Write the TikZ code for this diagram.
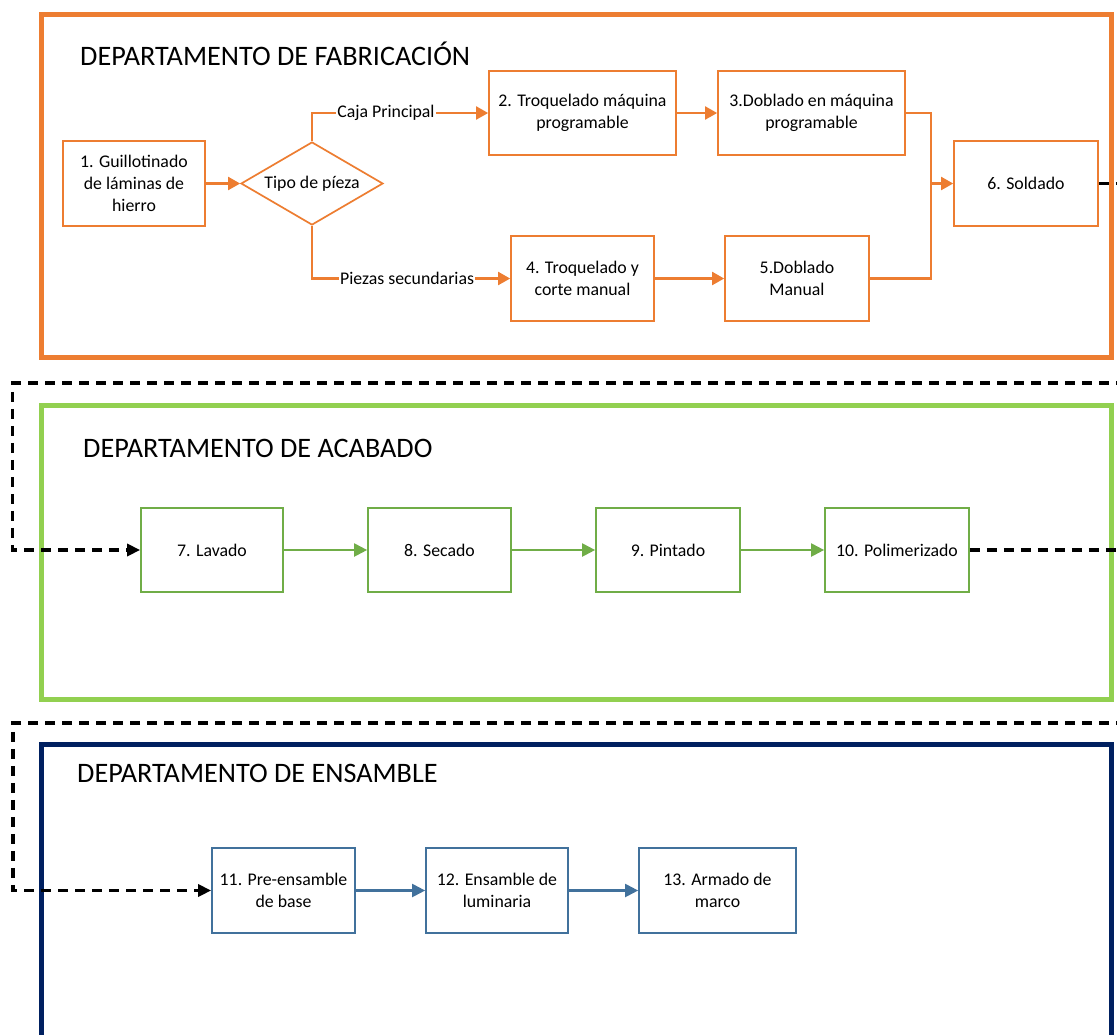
\documentclass[tikz,border=0pt]{standalone}
\usepackage{fontspec}
\setmainfont{Carlito}
\usetikzlibrary{arrows.meta,shapes.geometric}
\definecolor{orng}{HTML}{ED7D31}
\definecolor{grnframe}{HTML}{92D050}
\definecolor{grnline}{HTML}{70AD47}
\definecolor{navy}{HTML}{002060}
\definecolor{bluel}{HTML}{41719C}
\tikzset{
  txt/.style={font=\fontsize{17.8}{21.7}\selectfont, align=center, inner sep=0pt},
  ttl/.style={font=\fontsize{28.2}{34}\selectfont, anchor=base west, inner sep=0pt},
  obox/.style={txt, draw=orng, line width=1.7pt, fill=white},
  gbox/.style={txt, draw=grnline, line width=1.7pt, fill=white},
  bbox/.style={txt, draw=bluel, line width=1.7pt, fill=white},
  oarr/.style={draw=orng, line width=2.1pt, -{Triangle[length=12pt,width=13pt]}},
  garr/.style={draw=grnline, line width=2.1pt, -{Triangle[length=13pt,width=13pt]}},
  barr/.style={draw=bluel, line width=2.1pt, -{Triangle[length=13pt,width=13pt]}},
  oline/.style={draw=orng, line width=2.1pt},
  dline/.style={draw=black, line width=3.3pt, dash pattern=on 10pt off 7pt},
  darr/.style={dline, -{Triangle[length=13pt,width=12pt]}},
  frame/.style={line width=5pt},
  lbl/.style={txt, fill=white, inner sep=1pt}
}
\begin{document}
\begin{tikzpicture}[x=1pt,y=-1pt]
\useasboundingbox (0,0) rectangle (1117,1034);
\clip (0,0) rectangle (1117,1034);
\fill[white] (0,0) rectangle (1117,1034);

% frames
\draw[frame, draw=orng] (41,14) rectangle (1111,357);
\draw[frame, draw=grnframe] (41.5,405.5) rectangle (1111.5,699);
\draw[frame, draw=navy] (41,744) rectangle (1111,1060);

% titles
\node[ttl] (t1) at (80,65) {DEPARTAMENTO DE FABRICACIÓN};
\node[ttl] (t2) at (83,457) {DEPARTAMENTO DE ACABADO};
\node[ttl] (t3) at (77,782) {DEPARTAMENTO DE ENSAMBLE};

% fabrication
\node[obox, minimum width=142pt, minimum height=85pt] (b1) at (134,183.5) {1. Guillotinado\\de láminas de\\hierro};
\node[txt, diamond, draw=orng, line width=1.7pt, minimum width=142pt, minimum height=83pt, aspect=1.71] (dia) at (312,183.5) {Tipo de píeza};
\node[obox, minimum width=187pt, minimum height=84pt] (b2) at (582.5,113) {2. Troquelado máquina\\programable};
\node[obox, minimum width=187pt, minimum height=84pt] (b3) at (811.5,113) {3.Doblado en máquina\\programable};
\node[obox, minimum width=143pt, minimum height=85pt] (b4) at (582.5,278.5) {4. Troquelado y\\corte manual};
\node[obox, minimum width=144pt, minimum height=85pt] (b5) at (797,278.5) {5.Doblado\\Manual};
\node[obox, minimum width=144pt, minimum height=85pt] (b6) at (1026,183.5) {6. Soldado};
\coordinate (j) at (931,183.5);

\draw[oarr] (b1.east) -- (dia.west);
\draw[oarr] (dia.north) |- node[lbl, pos=0.71] (l1) {Caja Principal} (b2.west);
\draw[oarr] (dia.south) |- node[lbl, pos=0.74] (l2) {Piezas secundarias} (b4.west);
\draw[oarr] (b2.east) -- (b3.west);
\draw[oarr] (b4.east) -- (b5.west);
\draw[oline] (b3.east) -| (j);
\draw[oline] (b5.east) -| (j);
\draw[oarr] (j) -- (b6.west);

% finishing
\node[gbox, minimum width=142pt, minimum height=84pt] (b7) at (212,550) {7. Lavado};
\node[gbox, minimum width=143pt, minimum height=84pt] (b8) at (439.5,550) {8. Secado};
\node[gbox, minimum width=144pt, minimum height=84pt] (b9) at (668,550) {9. Pintado};
\node[gbox, minimum width=144pt, minimum height=84pt] (b10) at (897,550) {10. Polimerizado};
\draw[garr] (b7.east) -- (b8.west);
\draw[garr] (b8.east) -- (b9.west);
\draw[garr] (b9.east) -- (b10.west);

% assembly
\node[bbox, minimum width=143pt, minimum height=85pt] (b11) at (283.5,890.5) {11. Pre-ensamble\\de base};
\node[bbox, minimum width=142pt, minimum height=85pt] (b12) at (497,890.5) {12. Ensamble de\\luminaria};
\node[bbox, minimum width=157pt, minimum height=85pt] (b13) at (717.5,890.5) {13. Armado de\\marco};
\draw[barr] (b11.east) -- (b12.west);
\draw[barr] (b12.east) -- (b13.west);

% dashed links
\coordinate (r1) at (1140,183.5);
\coordinate (r2) at (1140,383);
\coordinate (r3) at (12.5,383);
\coordinate (r4) at (12.5,550);
\draw[darr] (b6.east) -- (r1) -- (r2) -- (r3) -- (r4) -- (b7.west);

\coordinate (s1) at (1140,550);
\coordinate (s2) at (1140,723);
\coordinate (s3) at (13,723);
\coordinate (s4) at (13,890.5);
\draw[darr] (b10.east) -- (s1) -- (s2) -- (s3) -- (s4) -- (b11.west);
\end{tikzpicture}
\end{document}
